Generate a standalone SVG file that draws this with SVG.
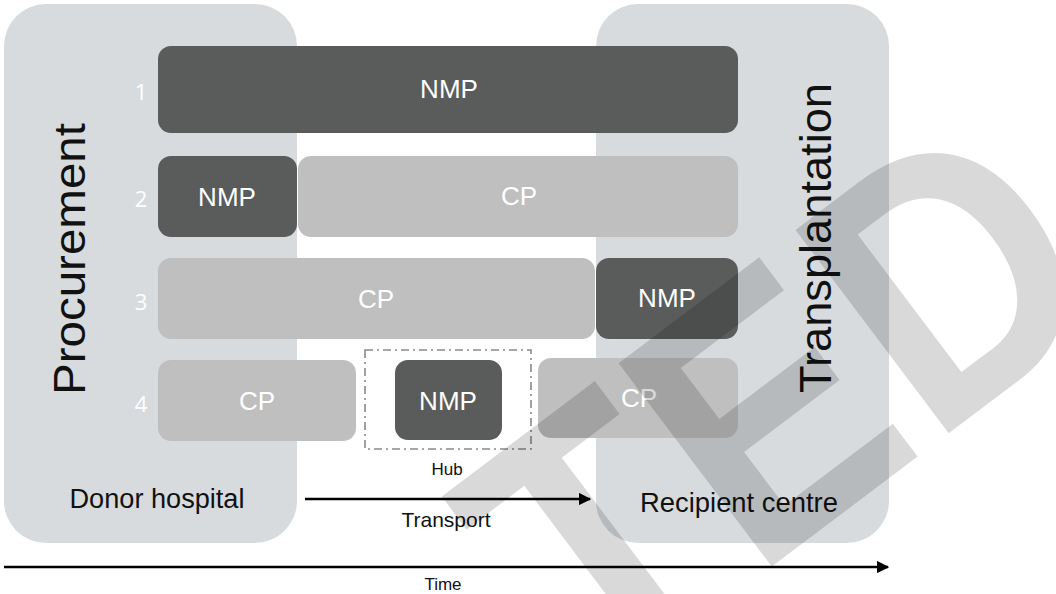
<svg xmlns="http://www.w3.org/2000/svg" width="1056" height="594" viewBox="0 0 1056 594">
  <defs>
    <marker id="arrow" viewBox="0 0 10 10" refX="9" refY="5" markerWidth="5" markerHeight="5" orient="auto" markerUnits="strokeWidth">
      <path d="M0,0 L10,5 L0,10 z" fill="#000"/>
    </marker>
  </defs>
  <style>
    .site { fill: #d8dbde; }
    .nmp { fill: #595c5b; }
    .cp { fill: #bfbfbf; }
    .lbl { font-family: "Liberation Sans", Arial, sans-serif; fill: #ffffff; font-size: 26px; text-anchor: middle; dominant-baseline: central; }
    .num { font-family: "Open Sans", "Liberation Sans", sans-serif; fill: #ffffff; font-size: 22px; text-anchor: middle; dominant-baseline: central; }
    .title { font-family: "Liberation Sans", Arial, sans-serif; fill: #111; text-anchor: middle; }
    .cap { font-family: "Liberation Sans", Arial, sans-serif; fill: #111; text-anchor: middle; }
    .conn { stroke: #000; stroke-width: 2.5; fill: none; }
    .mark { font-family: "Liberation Sans", Arial, sans-serif; font-weight: bold; fill: #000; fill-opacity: 0.15; }
  </style>

  <!-- sites -->
  <g id="donor-hospital">
    <rect class="site" x="4" y="4" width="293" height="539" rx="42"/>
    <text class="title" font-size="44" transform="translate(85,259) rotate(-90)" textLength="272" lengthAdjust="spacingAndGlyphs">Procurement</text>
    <text class="cap" x="157" y="508" font-size="27" textLength="175" lengthAdjust="spacingAndGlyphs">Donor hospital</text>
  </g>
  <g id="recipient-centre">
    <rect class="site" x="596" y="4" width="293" height="539" rx="42"/>
    <text class="title" font-size="45" transform="translate(831,238) rotate(-90)" textLength="310" lengthAdjust="spacingAndGlyphs">Transplantation</text>
    <text class="cap" x="739" y="512" font-size="28" textLength="198" lengthAdjust="spacingAndGlyphs">Recipient centre</text>
  </g>

  <!-- row 1 -->
  <g id="row1">
    <text class="num" x="141" y="91">1</text>
    <rect class="nmp" x="158" y="46" width="580" height="87" rx="13"/>
    <text class="lbl" x="449" y="89">NMP</text>
  </g>

  <!-- row 2 -->
  <g id="row2">
    <text class="num" x="141" y="198">2</text>
    <rect class="nmp" x="158" y="156" width="139" height="81" rx="13"/>
    <text class="lbl" x="227" y="197">NMP</text>
    <rect class="cp" x="298" y="156" width="440" height="81" rx="13"/>
    <text class="lbl" x="519" y="196">CP</text>
  </g>

  <!-- row 3 -->
  <g id="row3">
    <text class="num" x="141" y="301">3</text>
    <rect class="cp" x="158" y="258" width="437" height="81" rx="13"/>
    <text class="lbl" x="376" y="299">CP</text>
    <rect class="nmp" x="596" y="258" width="142" height="81" rx="13"/>
    <text class="lbl" x="667" y="298">NMP</text>
  </g>

  <!-- row 4 -->
  <g id="row4">
    <text class="num" x="141" y="403">4</text>
    <rect class="cp" x="158" y="360" width="198" height="81" rx="13"/>
    <text class="lbl" x="257" y="401">CP</text>
    <rect class="cp" x="538" y="358" width="200" height="80" rx="13"/>
    <text class="lbl" x="639" y="398">CP</text>
  </g>

  <!-- hub -->
  <g id="hub">
    <rect x="365" y="350" width="166" height="99" fill="none" stroke="#8a8a8a" stroke-width="1.6" stroke-dasharray="8,4,2,4"/>
    <rect class="nmp" x="395" y="360" width="107" height="80" rx="13"/>
    <text class="lbl" x="448" y="401">NMP</text>
    <text class="cap" x="447" y="475" font-size="17">Hub</text>
  </g>

  <!-- connectors -->
  <g id="connectors">
    <line class="conn" x1="305" y1="499" x2="590" y2="499" marker-end="url(#arrow)"/>
    <line class="conn" x1="4" y1="567" x2="888" y2="567" marker-end="url(#arrow)"/>
  </g>
  <g id="connector-labels">
    <text class="cap" x="446" y="527" font-size="21">Transport</text>
    <text class="cap" x="443" y="590" font-size="17">Time</text>
  </g>

  <!-- overlay stamp -->
  <g id="stamp">
    <text class="mark" font-size="370" letter-spacing="5" transform="translate(592,702) rotate(-37) scale(0.88,1)">TED</text>
  </g>
</svg>
